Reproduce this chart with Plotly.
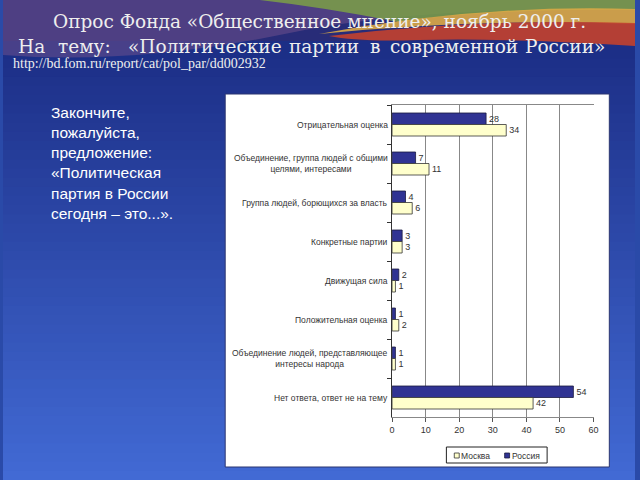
import plotly.graph_objects as go

# ---------------- data ----------------
categories = [
    "Отрицательная оценка",
    "Объединение, группа людей с общими целями, интересами",
    "Группа людей, борющихся за власть",
    "Конкретные партии",
    "Движущая сила",
    "Положительная оценка",
    "Объединение людей, представляющее интересы народа",
    "Нет ответа, ответ не на тему",
]
category_labels = [
    "Отрицательная оценка",
    "Объединение, группа людей с общими<br>целями, интересами",
    "Группа людей, борющихся за власть",
    "Конкретные партии",
    "Движущая сила",
    "Положительная оценка",
    "Объединение людей, представляющее<br>интересы народа",
    "Нет ответа, ответ не на тему",
]
russia = [28, 7, 4, 3, 2, 1, 1, 54]
moscow = [34, 11, 6, 3, 1, 2, 1, 42]
x_ticks = [0, 10, 20, 30, 40, 50, 60]
series_names = ["Москва", "Россия"]

title1 = "Опрос Фонда «Общественное мнение», ноябрь 2000 г."
title2_words = ["На", "тему:", "«Политические", "партии", "в", "современной", "России»"]
url_text = "http://bd.fom.ru/report/cat/pol_par/dd002932"
side_text = ("Закончите,<br>пожалуйста,<br>предложение:<br>«Политическая<br>"
             "партия в России<br>сегодня – это...».")

# ---------------- helpers ----------------
W, H = 640, 480
def px(x):
    return x / W
def py(y):
    return 1 - y / H

COL_RU = "#303393"
COL_MO = "#FFFFCC"

fig = go.Figure()

fig.add_trace(go.Bar(
    y=categories, x=russia, name=series_names[1], orientation="h",
    marker=dict(color=COL_RU, line=dict(color="#1a1a40", width=0.8)),
    text=russia, textposition="outside", constraintext="none",
    textfont=dict(family="Liberation Sans, Arial", size=9, color="#333333"),
    cliponaxis=False, showlegend=False,
))
fig.add_trace(go.Bar(
    y=categories, x=moscow, name=series_names[0], orientation="h",
    marker=dict(color=COL_MO, line=dict(color="#333333", width=0.8)),
    text=moscow, textposition="outside", constraintext="none",
    textfont=dict(family="Liberation Sans, Arial", size=9, color="#333333"),
    cliponaxis=False, showlegend=False,
))

shapes = []
# background gradient
top_c = (28, 46, 134)
bot_c = (66, 106, 212)
N = 48
y0 = 40
for i in range(N):
    ya = y0 + (H - y0) * i / N
    yb = y0 + (H - y0) * (i + 1) / N + 1
    t = i / (N - 1)
    c = tuple(int(top_c[k] + (bot_c[k] - top_c[k]) * t) for k in range(3))
    shapes.append(dict(type="rect", xref="paper", yref="paper", layer="below",
                       x0=0, x1=1, y0=py(yb), y1=py(ya),
                       fillcolor="rgb(%d,%d,%d)" % c, line=dict(width=0)))
shapes.append(dict(type="rect", xref="paper", yref="paper", layer="below",
                   x0=0, x1=1, y0=py(y0 + 1), y1=1,
                   fillcolor="rgb(40,44,120)", line=dict(width=0)))

def pth(cmds):
    out = []
    for c in cmds:
        if isinstance(c, str):
            out.append(c)
        else:
            out.append("%.5f,%.5f" % (px(c[0]), py(c[1])))
    return " ".join(out)

# decorative swoosh at the top
shapes.append(dict(type="path", xref="paper", yref="paper", layer="below",
                   path=pth(["M", (0, 0), "L", (640, 0), "L", (640, 10), "Q", (420, 5), (280, 35),
                             "Q", (130, 65), (0, 55), "Z"]),
                   fillcolor="rgba(110,80,140,0.55)", line=dict(width=0)))
shapes.append(dict(type="path", xref="paper", yref="paper", layer="below",
                   path=pth(["M", (260, 0), "L", (640, 0), "L", (640, 10), "Q", (500, 8), (400, 22),
                             "Q", (330, 8), (260, 0), "Z"]),
                   fillcolor="rgba(125,160,70,0.85)", line=dict(width=0)))
shapes.append(dict(type="path", xref="paper", yref="paper", layer="below",
                   path=pth(["M", (320, 34), "Q", (480, 4), (640, 9), "L", (640, 24),
                             "Q", (480, 18), (320, 34), "Z"]),
                   fillcolor="rgba(220,170,70,0.9)", line=dict(width=0)))
shapes.append(dict(type="path", xref="paper", yref="paper", layer="below",
                   path=pth(["M", (330, 36), "Q", (480, 18), (640, 23), "L", (640, 46),
                             "Q", (520, 38), (420, 40), "Q", (360, 42), (330, 36), "Z"]),
                   fillcolor="rgba(195,65,45,0.9)", line=dict(width=0)))

# white chart panel
shapes.append(dict(type="rect", xref="paper", yref="paper", layer="below",
                   x0=px(225), x1=px(614), y0=py(467), y1=py(94),
                   fillcolor="white", line=dict(color="#2a3570", width=1)))

# legend box (drawn)
shapes.append(dict(type="rect", xref="paper", yref="paper", layer="above",
                   x0=px(449), x1=px(551), y0=py(463), y1=py(447),
                   fillcolor="rgba(0,0,0,0)", line=dict(color="#222222", width=1)))
shapes.append(dict(type="rect", xref="paper", yref="paper", layer="above",
                   x0=px(457), x1=px(462), y0=py(458), y1=py(453),
                   fillcolor=COL_MO, line=dict(color="#333333", width=0.8)))
shapes.append(dict(type="rect", xref="paper", yref="paper", layer="above",
                   x0=px(508), x1=px(513), y0=py(458), y1=py(453),
                   fillcolor=COL_RU, line=dict(color="#1a1a40", width=0.8)))

annotations = []
annotations.append(dict(text=title1, x=px(320), y=py(22), xref="paper", yref="paper",
                        xanchor="center", yanchor="middle", showarrow=False,
                        font=dict(family="DejaVu Serif", size=18.5, color="#eeeeee")))
word_x = [13, 54, 125, 288, 370, 390, 527]
for w, wx in zip(title2_words, word_x):
    annotations.append(dict(text=w, x=px(wx), y=py(46), xref="paper", yref="paper",
                            xanchor="left", yanchor="middle", showarrow=False,
                            font=dict(family="DejaVu Serif", size=18.5, color="#eeeeee")))
annotations.append(dict(text=url_text, x=px(8), y=py(64), xref="paper", yref="paper",
                        xanchor="left", yanchor="middle", showarrow=False,
                        font=dict(family="Liberation Serif", size=14, color="#eeeeee")))
annotations.append(dict(text=side_text, x=px(47), y=py(102), xref="paper", yref="paper",
                        xanchor="left", yanchor="top", showarrow=False, align="left",
                        font=dict(family="Liberation Sans, Arial", size=15.5, color="white")))
for cat, lab in zip(categories, category_labels):
    annotations.append(dict(text=lab, x=px(392), y=cat, xref="paper", yref="y",
                            xanchor="right", yanchor="middle", showarrow=False, align="center",
                            font=dict(family="Liberation Sans, Arial", size=8.5, color="#333333")))
# legend labels
annotations.append(dict(text=series_names[0], x=px(462), y=py(455.5), xref="paper", yref="paper",
                        xanchor="left", yanchor="middle", showarrow=False,
                        font=dict(family="Liberation Sans, Arial", size=8.5, color="#333333")))
annotations.append(dict(text=series_names[1], x=px(513), y=py(455.5), xref="paper", yref="paper",
                        xanchor="left", yanchor="middle", showarrow=False,
                        font=dict(family="Liberation Sans, Arial", size=8.5, color="#333333")))

fig.update_layout(
    width=W, height=H, margin=dict(l=0, r=0, t=0, b=0),
    paper_bgcolor="#2a4aa8", plot_bgcolor="white",
    barmode="group", bargap=0.41, bargroupgap=0,
    shapes=shapes, annotations=annotations,
    showlegend=False,
    xaxis=dict(domain=[px(394), px(598)], range=[0, 60], tickvals=x_ticks,
               showgrid=True, gridcolor="#888888", gridwidth=1,
               showline=True, linecolor="#888888", linewidth=1, mirror=True,
               ticks="outside", ticklen=4, tickcolor="#555555",
               zeroline=False, fixedrange=True,
               tickfont=dict(family="Liberation Sans, Arial", size=9, color="#333333")),
    yaxis=dict(domain=[py(417), py(105)], autorange="reversed", type="category",
               showticklabels=False, ticks="outside", ticklen=4, tickson="boundaries",
               tickcolor="#333333", showline=True, linecolor="#333333", linewidth=1,
               showgrid=False, fixedrange=True),
)

fig.write_html("out.html")
